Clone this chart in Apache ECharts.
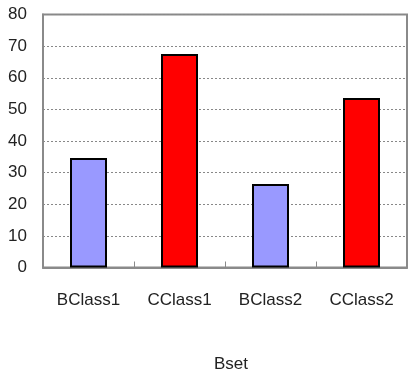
<!DOCTYPE html>
<html>
<head>
<meta charset="utf-8">
<script src="https://cdn.jsdelivr.net/npm/echarts@6/dist/echarts.min.js"></script>
<style>
  html, body { margin: 0; padding: 0; background: #fff; }
  #chart { width: 408px; height: 376px; }
</style>
</head>
<body>
<div id="chart"></div>
<script>
// Categories along the x axis and the value of each bar
const categories = ['BClass1', 'CClass1', 'BClass2', 'CClass2'];
const values = [34.6, 67.5, 26.4, 53.6];
const barColors = ['#9999FF', '#FF0000', '#9999FF', '#FF0000'];
const yTicks = [0, 10, 20, 30, 40, 50, 60, 70, 80];

const chart = echarts.init(document.getElementById('chart'), null, { renderer: 'canvas' });

const font = '"Liberation Sans", Arial, sans-serif';

chart.setOption({
  animation: false,
  backgroundColor: '#ffffff',
  grid: {
    left: 43, right: 1, top: 14.5, bottom: 108.5,
    outerBoundsMode: 'none',
    containLabel: false,
    show: true, borderColor: '#8a8a8a', borderWidth: 2, backgroundColor: 'transparent'
  },
  xAxis: {
    type: 'category',
    data: categories,
    name: 'Bset',
    nameLocation: 'middle',
    nameGap: 88,
    nameTextStyle: { fontFamily: font, fontSize: 17, color: '#222', padding: [0, 0, 0, 12] },
    axisLine: { show: true, lineStyle: { color: '#8a8a8a', width: 2 } },
    axisTick: { show: true, inside: true, length: 6, lineStyle: { color: '#8a8a8a', width: 1 } },
    axisLabel: { fontFamily: font, fontSize: 17, color: '#222', margin: 24, interval: 0 },
    splitLine: { show: false }
  },
  yAxis: {
    type: 'value',
    min: yTicks[0],
    max: yTicks[yTicks.length - 1],
    interval: 10,
    axisLine: { show: true, lineStyle: { color: '#8a8a8a', width: 2 } },
    axisTick: { show: false },
    axisLabel: { fontFamily: font, fontSize: 17, color: '#222', margin: 16, padding: [4, 0, 0, 0] },
    splitLine: { show: true, lineStyle: { color: '#888', type: [2, 2], width: 1 } }
  },
  series: [{
    type: 'bar',
    barWidth: 37,
    data: values.map((v, i) => ({
      value: v,
      itemStyle: { color: barColors[i], borderColor: '#000', borderWidth: 2 }
    }))
  }]
});
</script>
</body>
</html>
